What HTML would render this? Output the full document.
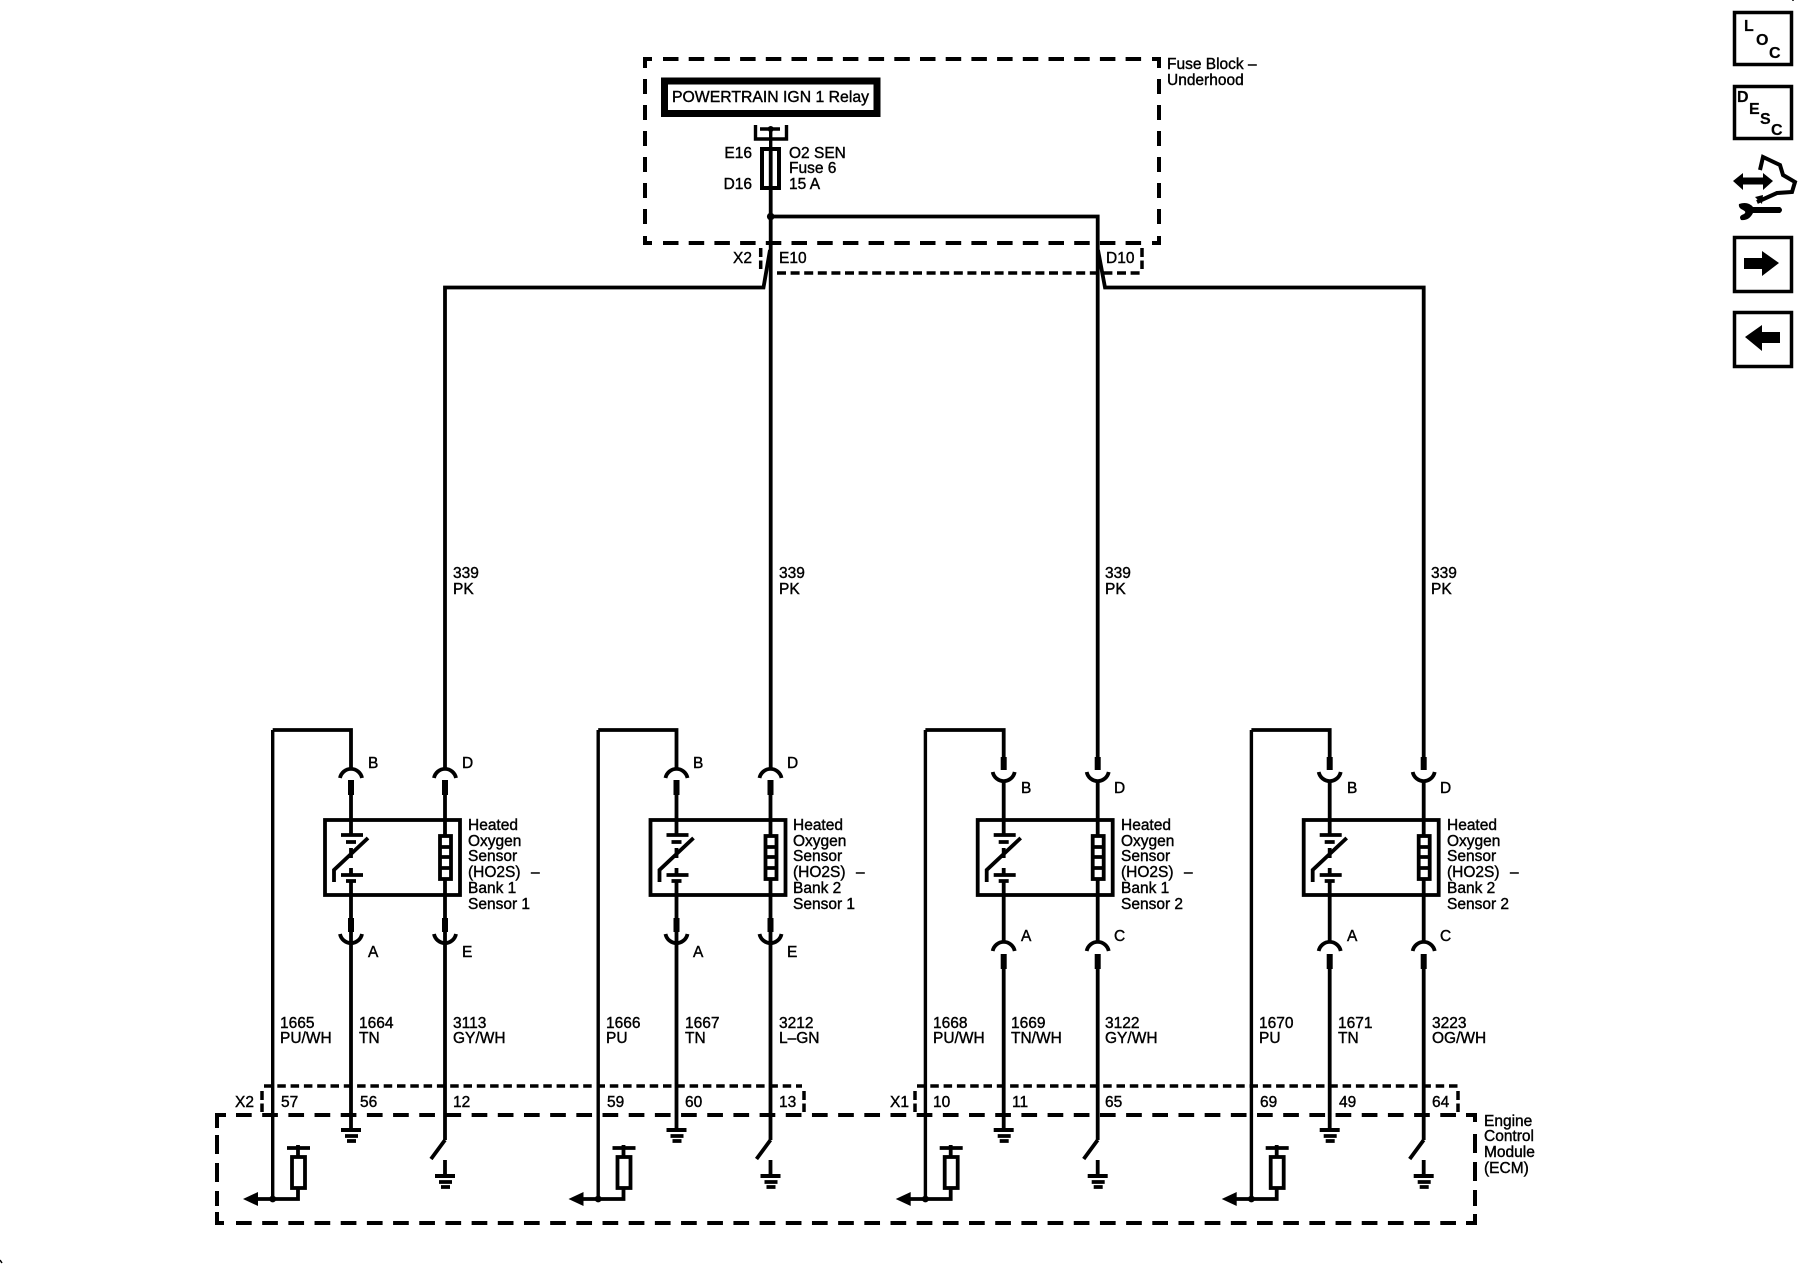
<!DOCTYPE html>
<html><head><meta charset="utf-8"><style>
html,body{margin:0;padding:0;background:#fff}
svg{display:block}
text{font-family:"Liberation Sans",Arial,sans-serif;font-size:15.5px;fill:#000;stroke:#000;stroke-width:.4}
.w{fill:none;stroke:#000;stroke-width:3.8}
.s{fill:none;stroke:#000;stroke-width:6}
.d{fill:none;stroke:#000;stroke-width:4}
.c{fill:none;stroke:#000;stroke-width:3.5}
.i{font-weight:bold;font-size:16px;stroke-width:.2}
</style></head><body>
<svg width="1800" height="1280" viewBox="0 0 1800 1280" xmlns="http://www.w3.org/2000/svg">
<defs>
<g id="box">
<rect class="w" x="325" y="820" width="135" height="75"/>
<path class="w" d="M341 835H363M346 842H356M368 838L334 870V882M351 848V858M351 868V875M341 875H363M346 881H356"/>
<rect class="w" x="440" y="836" width="11" height="43"/>
<path class="w" d="M440 847H451M440 857H451M440 868H451"/>
</g>
<g id="type1">
<path class="w" d="M272.7 730H351V769M351 795V835M351 881V943M351 943V1130"/>
<path class="s" d="M351 780V795M445 780V795M351 918V932M445 918V932"/>
<path class="w" d="M340 778A11.2 11.2 0 0 1 362 778M434 778A11.2 11.2 0 0 1 456 778M340 934A11.2 11.2 0 0 0 362 934M434 934A11.2 11.2 0 0 0 456 934"/>
<path class="w" d="M445 795V836M445 879V1140"/>
</g>
<g id="type2">
<path class="w" d="M272.7 730H351V757M351 781V835M351 881V942M351 969V1130"/>
<path class="s" d="M351 757V770M445 757V770M351 954V969M445 954V969"/>
<path class="w" d="M340 772A11.2 11.2 0 0 0 362 772M434 772A11.2 11.2 0 0 0 456 772M340 951A11.2 11.2 0 0 1 362 951M434 951A11.2 11.2 0 0 1 456 951"/>
<path class="w" d="M445 781V836M445 879V942M445 969V1140"/>
</g>
<g id="low">
<path class="w" d="M272.7 730V1199" style="stroke-width:3.4"/>
<circle cx="272.7" cy="1199" r="3.4"/>
<path class="w" d="M298 1188V1199H256"/>
<path d="M243 1199L258 1192V1206Z"/>
<rect class="w" x="292" y="1157" width="13" height="31"/>
<path class="w" d="M298 1145V1157M287 1148H310"/>
<path class="d" d="M341 1130H361"/><path class="w" d="M345 1136H358M347 1141H356"/>
<path class="w" d="M445 1140L431 1159M445 1160V1176"/>
<path class="d" d="M435 1176H455"/><path class="w" d="M439 1182H452M441 1187H450"/>
</g>
</defs>

<!-- Fuse block -->
<path class="d" d="M645 68V59H652"/>
<path class="d" d="M1152 59H1159V68"/>
<path class="d" d="M645 236V243H652"/>
<path class="d" d="M1152 243H1159V236"/>
<path class="d" d="M663 59H1145" stroke-dasharray="15.5 10.2"/>
<path class="d" d="M663 243H1145" stroke-dasharray="15.5 10.2"/>
<path class="d" d="M645 79V225" stroke-dasharray="15 11"/>
<path class="d" d="M1159 79V225" stroke-dasharray="15 11"/>
<rect x="664.5" y="81" width="212.5" height="32.5" fill="none" stroke="#000" stroke-width="7"/>
<text x="672" y="102" textLength="197" lengthAdjust="spacingAndGlyphs">POWERTRAIN IGN 1 Relay</text>
<path class="w" d="M755.5 125V139H786.5V125M760 129H780M770.7 129V147" style="stroke-width:3.4"/>
<circle cx="770.7" cy="129" r="3"/>
<rect class="d" x="762" y="149" width="17" height="39"/>
<path class="w" d="M770.7 149V769"/>
<circle cx="770.7" cy="216.5" r="3.8"/>
<path class="w" d="M770.7 216.5H1097.7V757"/>
<text x="752" y="158" text-anchor="end">E16</text>
<text x="752" y="189" text-anchor="end">D16</text>
<text x="789" y="158">O2 SEN</text>
<text x="789" y="173">Fuse 6</text>
<text x="789" y="189">15 A</text>
<text x="1167" y="69">Fuse Block –</text>
<text x="1167" y="85">Underhood</text>

<!-- top connector -->
<path class="c" d="M760.7 248V269" stroke-dasharray="9 3.5"/>
<path class="c" d="M1142 248V269" stroke-dasharray="9 3.5"/>
<path class="c" d="M777 273H1142" stroke-dasharray="9 4.6"/>
<text x="752" y="263" text-anchor="end">X2</text>
<text x="779" y="263">E10</text>
<text x="1106" y="263">D10</text>
<path class="w" d="M770 250L763.5 287.5H445V769"/>
<path class="w" d="M1098 250L1105 287.5H1423.7V757"/>

<text x="453" y="578">339</text><text x="453" y="594">PK</text>
<text x="779" y="578">339</text><text x="779" y="594">PK</text>
<text x="1105" y="578">339</text><text x="1105" y="594">PK</text>
<text x="1431" y="578">339</text><text x="1431" y="594">PK</text>

<!-- columns -->
<g><use href="#box"/><use href="#type1"/><use href="#low"/></g>
<g transform="translate(325.5 0)"><use href="#box"/><use href="#type1"/><use href="#low"/></g>
<g transform="translate(652.7 0)"><use href="#box"/><use href="#type2"/><use href="#low"/></g>
<g transform="translate(978.7 0)"><use href="#box"/><use href="#type2"/><use href="#low"/></g>

<!-- pin labels -->
<text x="368" y="768">B</text><text x="462" y="768">D</text><text x="368" y="957">A</text><text x="462" y="957">E</text>
<text x="693" y="768">B</text><text x="787" y="768">D</text><text x="693" y="957">A</text><text x="787" y="957">E</text>
<text x="1021" y="793">B</text><text x="1114" y="793">D</text><text x="1021" y="941">A</text><text x="1114" y="941">C</text>
<text x="1347" y="793">B</text><text x="1440" y="793">D</text><text x="1347" y="941">A</text><text x="1440" y="941">C</text>

<!-- sensor labels -->
<text x="468" y="830">Heated</text><text x="468" y="846">Oxygen</text><text x="468" y="861">Sensor</text><text x="468" y="877">(HO2S)</text><text x="531" y="877">–</text><text x="468" y="893">Bank 1</text><text x="468" y="909">Sensor 1</text>
<text x="793" y="830">Heated</text><text x="793" y="846">Oxygen</text><text x="793" y="861">Sensor</text><text x="793" y="877">(HO2S)</text><text x="856" y="877">–</text><text x="793" y="893">Bank 2</text><text x="793" y="909">Sensor 1</text>
<text x="1121" y="830">Heated</text><text x="1121" y="846">Oxygen</text><text x="1121" y="861">Sensor</text><text x="1121" y="877">(HO2S)</text><text x="1184" y="877">–</text><text x="1121" y="893">Bank 1</text><text x="1121" y="909">Sensor 2</text>
<text x="1447" y="830">Heated</text><text x="1447" y="846">Oxygen</text><text x="1447" y="861">Sensor</text><text x="1447" y="877">(HO2S)</text><text x="1510" y="877">–</text><text x="1447" y="893">Bank 2</text><text x="1447" y="909">Sensor 2</text>

<!-- wire labels -->
<text x="280" y="1028">1665</text><text x="280" y="1043">PU/WH</text>
<text x="359" y="1028">1664</text><text x="359" y="1043">TN</text>
<text x="453" y="1028">3113</text><text x="453" y="1043">GY/WH</text>
<text x="606" y="1028">1666</text><text x="606" y="1043">PU</text>
<text x="685" y="1028">1667</text><text x="685" y="1043">TN</text>
<text x="779" y="1028">3212</text><text x="779" y="1043">L–GN</text>
<text x="933" y="1028">1668</text><text x="933" y="1043">PU/WH</text>
<text x="1011" y="1028">1669</text><text x="1011" y="1043">TN/WH</text>
<text x="1105" y="1028">3122</text><text x="1105" y="1043">GY/WH</text>
<text x="1259" y="1028">1670</text><text x="1259" y="1043">PU</text>
<text x="1338" y="1028">1671</text><text x="1338" y="1043">TN</text>
<text x="1432" y="1028">3223</text><text x="1432" y="1043">OG/WH</text>

<!-- ECM connectors -->
<path class="c" d="M264 1086H802" stroke-dasharray="8.5 4.8"/>
<path class="c" d="M917 1086H1458" stroke-dasharray="8.5 4.8"/>
<path class="c" d="M262 1091V1112" stroke-dasharray="9 3.5"/>
<path class="c" d="M804 1091V1112" stroke-dasharray="9 3.5"/>
<path class="c" d="M915 1091V1112" stroke-dasharray="9 3.5"/>
<path class="c" d="M1458 1091V1112" stroke-dasharray="9 3.5"/>
<text x="235" y="1107">X2</text><text x="890" y="1107">X1</text>
<text x="281" y="1107">57</text><text x="360" y="1107">56</text><text x="453" y="1107">12</text>
<text x="607" y="1107">59</text><text x="685" y="1107">60</text><text x="779" y="1107">13</text>
<text x="933" y="1107">10</text><text x="1012" y="1107">11</text><text x="1105" y="1107">65</text>
<text x="1260" y="1107">69</text><text x="1339" y="1107">49</text><text x="1432" y="1107">64</text>

<!-- ECM box -->
<path class="d" d="M217 1128V1115H226"/>
<path class="d" d="M1466 1115H1475V1122"/>
<path class="d" d="M217 1212V1223H224"/>
<path class="d" d="M1466 1223H1475V1214"/>
<path class="d" d="M236 1115H1460" stroke-dasharray="15.7 10.48"/>
<path class="d" d="M236 1223H1460" stroke-dasharray="15.7 10.48"/>
<path class="d" d="M217 1135V1206" stroke-dasharray="19 9"/>
<path class="d" d="M1475 1134V1206" stroke-dasharray="19 9"/>
<text x="1484" y="1126">Engine</text><text x="1484" y="1141">Control</text><text x="1484" y="1157">Module</text><text x="1484" y="1173">(ECM)</text>

<!-- Right icons -->
<rect x="1734.5" y="12.5" width="57" height="52" fill="none" stroke="#000" stroke-width="3.5"/>
<text class="i" x="1744" y="31">L</text><text class="i" x="1756" y="45">O</text><text class="i" x="1769" y="58">C</text>
<rect x="1734.5" y="86.5" width="57" height="52" fill="none" stroke="#000" stroke-width="3.5"/>
<text class="i" x="1737" y="102">D</text><text class="i" x="1749" y="114">E</text><text class="i" x="1760" y="124">S</text><text class="i" x="1771" y="135">C</text>
<path fill="none" stroke="#000" stroke-width="4" d="M1760 170L1763 157L1780 165L1783 175L1795 182L1792 192L1777 193L1757 202"/>
<path fill="none" stroke="#000" stroke-width="7" d="M1740 181H1768"/><path d="M1733 181L1743 173V190ZM1773 181L1763 173V190Z"/>
<path d="M1755 197L1763 195L1762 204Z"/>
<path d="M1739 204Q1748 201 1753 207H1780Q1784 210 1780 213H1753Q1749 221 1741 220Q1738 216 1744 214Q1747 212 1743 210Q1738 208 1739 204Z"/>
<rect x="1734.5" y="237.5" width="57" height="54" fill="none" stroke="#000" stroke-width="3.5"/>
<path d="M1744 258H1762V251L1779 263L1762 276V269H1744Z"/>
<rect x="1734.5" y="312.5" width="57" height="54" fill="none" stroke="#000" stroke-width="3.5"/>
<path d="M1780 332H1762V325L1745 337L1762 351V343H1780Z"/>
<path class="w" d="M1793 0V1M0 1260L2 1263" style="stroke-width:1.5"/>
</svg>
</body></html>
